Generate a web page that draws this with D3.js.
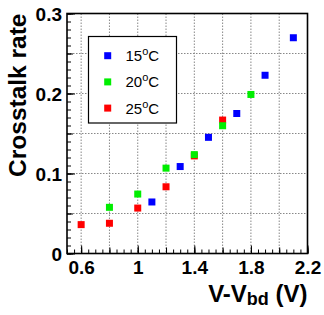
<!DOCTYPE html>
<html>
<head>
<meta charset="utf-8">
<script src="https://cdn.jsdelivr.net/npm/d3@7"></script>
<style>
  body { margin: 0; background: #fff; }
  svg { display: block; font-family: "Liberation Sans", Arial, sans-serif; }
  .tick text { font-weight: bold; font-size: 19px; fill: #000; }
  .domain { display: none; }
  .grid line { stroke: #888; stroke-dasharray: 1.5, 1.5; stroke-width: 1; }
</style>
</head>
<body>
<script>
// crosstalk rate vs over-voltage, three temperatures
const series = ["15", "20", "25"];
const colors = ["#0000ff", "#00ee00", "#ff0000"];
const xs15 = [1.1, 1.3, 1.5, 1.7, 1.9, 2.1];
const ys15 = [0.0644, 0.1087, 0.1452, 0.175, 0.2228, 0.2697];
const xs20 = [0.8, 1.0, 1.2, 1.4, 1.6, 1.8];
const ys20 = [0.0577, 0.0743, 0.1067, 0.1236, 0.1597, 0.1988];
const xs25 = [0.6, 0.8, 1.0, 1.2, 1.4, 1.6];
const ys25 = [0.0361, 0.0378, 0.0568, 0.0834, 0.122, 0.1668];
const xTickLabels = [0.6, 1, 1.4, 1.8, 2.2];
const yTickLabels = [0, 0.1, 0.2, 0.3];

const W = 324, H = 315;
const pLeft = 67, pRight = 307.5, pTop = 13.5, pBottom = 253.5;

const x = d3.scaleLinear([0.5, 2.2], [pLeft, pRight]);
const y = d3.scaleLinear([0, 0.3], [pBottom, pTop]);

const svg = d3.select("body").append("svg")
  .attr("width", W).attr("height", H);

// grid
const xGrid = d3.range(0.6, 2.21, 0.2), yGrid = d3.range(0.05, 0.3, 0.05);
const grid = svg.append("g").attr("class", "grid");
grid.selectAll(".gx").data(xGrid).join("line")
  .attr("x1", d => x(d)).attr("x2", d => x(d))
  .attr("y1", pTop).attr("y2", pBottom);
grid.selectAll(".gy").data(yGrid).join("line")
  .attr("x1", pLeft).attr("x2", pRight)
  .attr("y1", d => y(d)).attr("y2", d => y(d));

// axes: minor, medium, major ticks pointing inward
function ticksY(vals, len, labels) {
  const ax = d3.axisLeft(y).tickValues(vals).tickSize(-len).tickPadding(5)
    .tickFormat(labels ? d3.format("") : () => "");
  svg.append("g").attr("transform", `translate(${pLeft},0)`).call(ax)
    .selectAll(".tick text").attr("dy", "0.36em");
}
function ticksX(vals, len, labels) {
  const ax = d3.axisBottom(x).tickValues(vals).tickSize(-len).tickPadding(7)
    .tickFormat(labels ? d3.format("") : () => "");
  svg.append("g").attr("transform", `translate(0,${pBottom})`).call(ax);
}
ticksY(d3.range(0, 0.301, 0.01), 4, false);
ticksY(d3.range(0, 0.301, 0.05), 6, false);
ticksY(yTickLabels, 8, true);
ticksX(d3.range(0.5, 2.201, 0.05), 4, false);
ticksX(d3.range(0.6, 2.201, 0.2), 6, false);
ticksX(xTickLabels, 8, true);
svg.selectAll(".tick line").attr("stroke", "#000");

// points
const data = [
  {xs: xs25, ys: ys25, c: colors[2]},
  {xs: xs20, ys: ys20, c: colors[1]},
  {xs: xs15, ys: ys15, c: colors[0]},
];
const m = 7;
data.forEach(s => {
  svg.append("g").selectAll("rect").data(s.xs.map((v, i) => [v, s.ys[i]])).join("rect")
    .attr("x", d => x(d[0]) - m / 2).attr("y", d => y(d[1]) - m / 2)
    .attr("width", m).attr("height", m).attr("fill", s.c);
});

// legend
const lg = svg.append("g");
lg.append("rect").attr("x", 88.5).attr("y", 36.5).attr("width", 88).attr("height", 86.5)
  .attr("fill", "#fff").attr("stroke", "#000").attr("stroke-width", 1.2);
series.forEach((t, i) => {
  const cy = 55.7 + i * 26.2;
  lg.append("rect").attr("x", 107.7 - m / 2).attr("y", cy - m / 2)
    .attr("width", m).attr("height", m).attr("fill", colors[i]);
  const tx = lg.append("text").attr("x", 125.5).attr("y", cy + 5.5)
    .attr("font-size", 15);
  tx.append("tspan").text(t);
  tx.append("tspan").attr("font-size", 11).attr("dy", -6).text("o");
  tx.append("tspan").attr("dy", 6).text("C");
});

// frame
svg.append("rect").attr("x", pLeft).attr("y", pTop)
  .attr("width", pRight - pLeft).attr("height", pBottom - pTop)
  .attr("fill", "none").attr("stroke", "#000").attr("stroke-width", 1.6);

// titles
svg.append("text")
  .attr("transform", `translate(25.5,${pTop}) rotate(-90)`)
  .attr("text-anchor", "end").attr("font-weight", "bold").attr("font-size", 24.5)
  .text("Crosstalk rate");
const xt = svg.append("text").attr("x", pRight).attr("y", 301.5)
  .attr("text-anchor", "end").attr("font-weight", "bold").attr("font-size", 24);
xt.append("tspan").text("V-V");
xt.append("tspan").attr("font-size", 18).attr("dy", 3).text("bd");
xt.append("tspan").attr("dy", -3).text(" (V)");
</script>
</body>
</html>
